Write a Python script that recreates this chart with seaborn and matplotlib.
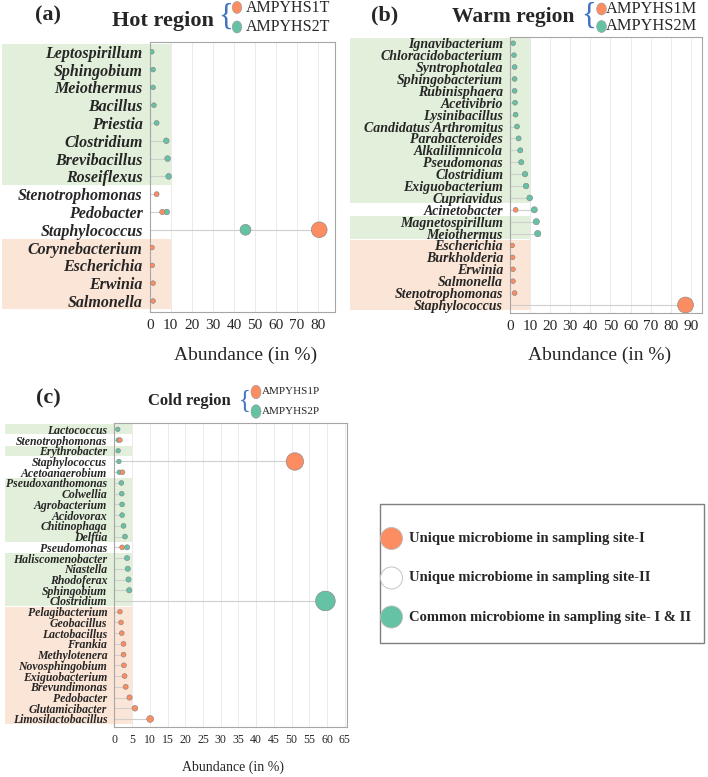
import numpy as np
import pandas as pd
import seaborn as sns
import matplotlib.pyplot as plt
from matplotlib.patches import Rectangle, Ellipse
from matplotlib.transforms import blended_transform_factory

nan = np.nan

# (a) hot region
hot_genus = ['Leptospirillum', 'Sphingobium', 'Meiothermus', 'Bacillus', 'Priestia',
             'Clostridium', 'Brevibacillus', 'Roseiflexus', 'Stenotrophomonas',
             'Pedobacter', 'Staphylococcus', 'Corynebacterium', 'Escherichia',
             'Erwinia', 'Salmonella']
hot_site1 = [nan, nan, nan, nan, nan, nan, nan, nan, 3.3, 6.0, 80.5, 1.1, 1.2, 1.6, 1.6]
hot_site2 = [1.0, 1.6, 1.6, 2.0, 3.3, 7.9, 8.5, 9.0, nan, 8.1, 45.5, nan, nan, nan, nan]
hot_band = ['g'] * 8 + ['w'] * 3 + ['p'] * 4

# (b) warm region
warm_genus = ['Ignavibacterium', 'Chloracidobacterium', 'Syntrophotalea', 'Sphingobacterium',
              'Rubinisphaera', 'Acetivibrio', 'Lysinibacillus', 'Candidatus Arthromitus',
              'Parabacteroides', 'Alkalilimnicola', 'Pseudomonas', 'Clostridium',
              'Exiguobacterium', 'Cupriavidus', 'Acinetobacter', 'Magnetospirillum',
              'Meiothermus', 'Escherichia', 'Burkholderia', 'Erwinia', 'Salmonella',
              'Stenotrophomonas', 'Staphylococcus']
warm_site1 = [nan] * 14 + [2.8, nan, nan, 1.1, 1.3, 1.5, 1.5, 2.3, 87.4]
warm_site2 = [1.6, 2.0, 2.3, 2.3, 2.3, 2.5, 2.8, 3.5, 4.3, 5.1, 5.6, 7.5, 8.0, 9.8,
              12.1, 13.1, 13.8] + [nan] * 6
warm_band = ['g'] * 14 + ['w', 'g', 'g'] + ['p'] * 6

# (c) cold region
cold_genus = ['Lactococcus', 'Stenotrophomonas', 'Erythrobacter', 'Staphylococcus',
              'Acetoanaerobium', 'Pseudoxanthomonas', 'Colwellia', 'Agrobacterium',
              'Acidovorax', 'Chitinophaga', 'Delftia', 'Pseudomonas', 'Haliscomenobacter',
              'Niastella', 'Rhodoferax', 'Sphingobium', 'Clostridium', 'Pelagibacterium',
              'Geobacillus', 'Lactobacillus', 'Frankia', 'Methylotenera', 'Novosphingobium',
              'Exiguobacterium', 'Brevundimonas', 'Pedobacter', 'Glutamicibacter',
              'Limosilactobacillus']
cold_site1 = [nan, 1.6, nan, 50.9, 2.3] + [nan] * 6 + [2.2] + [nan] * 5 + \
             [1.6, 1.9, 2.1, 2.6, 2.6, 2.7, 2.9, 3.2, 4.3, 5.8, 10.1]
cold_site2 = [1.0, 1.1, 1.1, 1.3, 1.4, 2.0, 2.1, 2.2, 2.2, 2.6, 3.0, 3.6, 3.6, 3.8,
              4.0, 4.2, 59.5] + [nan] * 11
cold_band = ['g', 'w', 'g', 'w', 'w'] + ['g'] * 6 + ['w'] + ['g'] * 5 + ['p'] * 11

ORANGE = '#FC8D62'
GREEN = '#66C2A5'
band_colors = {'g': '#E2EFDA', 'p': '#FBE5D6'}

sns.set_style('white')
plt.rcParams['font.family'] = ['Liberation Serif', 'DejaVu Serif']

W, H = 708, 777
fig = plt.figure(figsize=(W / 100, H / 100), dpi=100)


def fx(x):
    return x / W


def fy(y):
    return 1 - y / H


def lollipop(rect, genus, site1, site2, band, xmax, xticks, band_left, band_right,
             pad_top, pad_bot, d0, k, ylab_size, xtick_size):
    ax = fig.add_axes([fx(rect[0]), fy(rect[3]), (rect[2] - rect[0]) / W, (rect[3] - rect[1]) / H])
    n = len(genus)
    pos = list(range(n))
    df = pd.DataFrame({'pos': pos + pos, 'site': ['II'] * n + ['I'] * n,
                       'value': list(site2) + list(site1)}).dropna()
    df['area'] = ((d0 + k * df['value']) * 0.72) ** 2
    top = np.nanmax(np.array([site1, site2], dtype=float), axis=0)
    ax.hlines(pos, 0, top, color='#cfcfcf', lw=0.8, zorder=2)
    amin, amax = df['area'].min(), df['area'].max()
    sns.scatterplot(data=df, x='value', y='pos', hue='site', palette={'I': ORANGE, 'II': GREEN},
                    size='area', sizes=(amin, amax), size_norm=(amin, amax),
                    edgecolor='0.5', linewidth=0.4, legend=False, ax=ax, zorder=3)

    # background bands behind the labels
    tr = blended_transform_factory(ax.transAxes, ax.transData)
    i = 0
    while i < n:
        j = i
        while j + 1 < n and band[j + 1] == band[i]:
            j += 1
        if band[i] in band_colors:
            right = band_right[band[i]] / xmax
            ax.add_patch(Rectangle((band_left, i - 0.5 + 0.04), right - band_left, j - i + 1 - 0.08,
                                   transform=tr, facecolor=band_colors[band[i]], edgecolor='none',
                                   clip_on=False, zorder=0.1))
        i = j + 1

    ax.set_xlim(0, xmax)
    ax.set_ylim(n - 1 + pad_bot, -pad_top)
    ax.set_xticks(xticks)
    ax.set_xticklabels([str(t) for t in xticks], fontsize=xtick_size)
    ax.set_yticks(pos)
    ax.set_yticklabels(genus, fontsize=ylab_size, fontweight='bold', fontstyle='italic')
    ax.set_xlabel('')
    ax.set_ylabel('')
    ax.grid(axis='x', color='#e8e8e8', lw=0.6)
    ax.set_axisbelow(True)
    for s in ax.spines.values():
        s.set_color('#a6a6a6')
        s.set_linewidth(0.8)
    ax.tick_params(length=3, width=0.8, color='#a6a6a6', pad=2)
    return ax


lollipop((149.7, 42, 335, 312), hot_genus, hot_site1, hot_site2, hot_band, 88,
         list(range(0, 81, 10)), -0.797, {'g': 10, 'p': 10}, 0.55, 0.62, 4.5, 0.14, 11.5, 11)
lollipop((510, 37.3, 702, 312.7), warm_genus, warm_site1, warm_site2, warm_band, 95.6,
         list(range(0, 91, 10)), -0.833, {'g': 10.3, 'p': 10}, 0.5, 0.65, 4.5, 0.13, 10, 11)
lollipop((114.3, 423.3, 346.7, 726.7), cold_genus, cold_site1, cold_site2, cold_band, 65.5,
         list(range(0, 66, 5)), -0.47, {'g': 5, 'p': 5}, 0.56, 0.72, 4.2, 0.26, 8.5, 8.5)

# x labels
fig.text(fx(245.5), fy(355), 'Abundance (in %)', fontsize=14, ha='center', va='center')
fig.text(fx(600), fy(355), 'Abundance (in %)', fontsize=14, ha='center', va='center')
fig.text(fx(232.5), fy(767), 'Abundance (in %)', fontsize=10, ha='center', va='center')


# panel headers
def header(tag, tag_xy, title, title_x, title_y, title_size, brace_xy, brace_size,
           circ_x, circ_ys, circ_wh, names, name_x, name_size):
    fig.text(fx(tag_xy[0]), fy(tag_xy[1]), tag, fontsize=16, fontweight='bold', ha='center', va='center')
    fig.text(fx(title_x), fy(title_y), title, fontsize=title_size, fontweight='bold', ha='left', va='center')
    fig.text(fx(brace_xy[0]), fy(brace_xy[1]), '{', fontsize=brace_size, color='#4472C4',
             ha='center', va='center')
    for cy, col, name in zip(circ_ys, [ORANGE, GREEN], names):
        fig.add_artist(Ellipse((fx(circ_x), fy(cy)), circ_wh[0] / W, circ_wh[1] / H,
                               transform=fig.transFigure, facecolor=col, edgecolor='0.6', lw=0.4))
        fig.text(fx(name_x), fy(cy), name, fontsize=name_size, ha='left', va='center')


header('(a)', (48, 15), 'Hot region', 112, 21, 16, (226, 17), 22,
       237, (7.5, 27), (9.5, 12), ['AMPYHS1T', 'AMPYHS2T'], 246, 11.5)
header('(b)', (385, 15), 'Warm region', 452, 17, 15.5, (589, 16), 22,
       601.5, (9, 26.5), (9.7, 12), ['AMPYHS1M', 'AMPYHS2M'], 606, 11.8)
header('(c)', (48, 398), 'Cold region', 148, 401, 12, (244.5, 400), 18,
       256, (392, 411.5), (10, 13.5), ['AMPYHS1P', 'AMPYHS2P'], 262, 8)

# category legend box
fig.add_artist(Rectangle((fx(380), fy(643)), 324 / W, 139 / H, transform=fig.transFigure,
                         fill=False, edgecolor='#7f7f7f', lw=1))
legend_items = [(538.5, ORANGE, 'Unique microbiome in sampling site-I'),
                (578, 'white', 'Unique microbiome in sampling site-II'),
                (617, GREEN, 'Common microbiome in sampling site- I & II')]
for ly, col, txt in legend_items:
    fig.add_artist(Ellipse((fx(391.5), fy(ly)), 22 / W, 22 / H, transform=fig.transFigure,
                           facecolor=col, edgecolor='#bbbbbb', lw=0.6))
    fig.text(fx(409), fy(ly), txt, fontsize=10.5, fontweight='bold', ha='left', va='center')

fig.savefig('out.png', dpi=100)
